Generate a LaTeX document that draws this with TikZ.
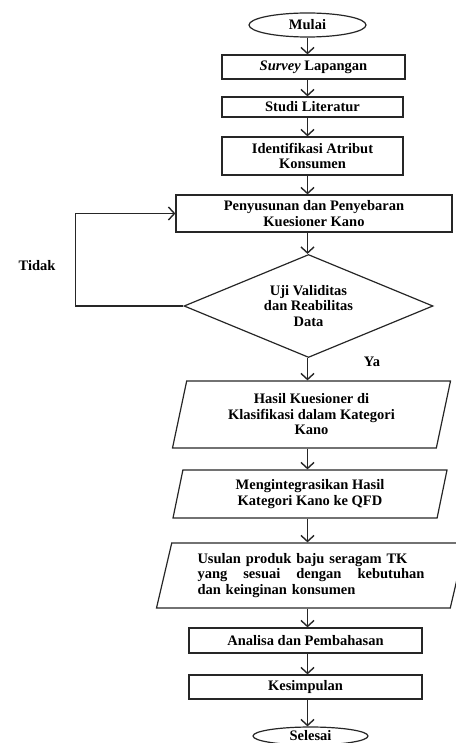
\documentclass[tikz,border=0pt]{standalone}
\usepackage{fontspec}
\setmainfont{Liberation Serif}
\usetikzlibrary{arrows.meta,shapes.geometric,positioning}

\begin{document}
\begin{tikzpicture}[x=1pt,y=-1pt,>={Straight Barb[length=6pt,width=13pt]},
	every node/.style={font=\bfseries\fontsize{14.5}{15.5}\selectfont,text=black,align=center,inner sep=0pt},
	proses/.style={rectangle,draw=black!85,line width=1.2pt},
	terminal/.style={ellipse,draw=black!85,line width=1.2pt,minimum width=117,minimum height=24},
	keputusan/.style={diamond,aspect=2.4,draw=black!85,line width=1.2pt},
	data/.style={trapezium,trapezium left angle=71,trapezium right angle=109,trapezium stretches body,draw=black!85,line width=1.2pt},
	alur/.style={->,line width=1.4pt,draw=black!85}]
					\useasboundingbox (0,0) rectangle (455,743);
					\node[terminal] (mulai) at (307.5,25) {Mulai};
					\node[proses,minimum width=183,minimum height=24] (survey) at (313.5,67) {\textit{Survey} Lapangan};
					\node[proses,minimum width=181,minimum height=20] (studi) at (312.5,107) {Studi Literatur};
					\node[proses,minimum width=181,minimum height=38] (atribut) at (312.5,156) {Identifikasi Atribut\\Konsumen};
					\node[proses,minimum width=276,minimum height=37] (kuesioner) at (314,213.5) {Penyusunan dan Penyebaran\\Kuesioner Kano};
					\node[keputusan,minimum width=249,minimum height=103] (uji) at (308.5,306) {Uji Validitas\\dan Reabilitas\\Data};
					\node[data,minimum width=278,minimum height=67] (hasil) at (311.5,414.5) {Hasil Kuesioner di\\Klasifikasi dalam Kategori\\Kano};
					\node[data,minimum width=274,minimum height=48] (integrasi) at (310,494) {Mengintegrasikan Hasil\\Kategori Kano ke QFD};
					\node[data,minimum width=309,minimum height=65,text width=227,align=left] (usulan) at (311,575.5) {Usulan produk baju seragam TK\\\leavevmode\hbox to 227pt{yang\hfill sesuai\hfill dengan\hfill kebutuhan}\\dan keinginan konsumen};
					\node[proses,minimum width=233,minimum height=25] (analisa) at (305.5,640.5) {Analisa dan Pembahasan};
					\node[proses,minimum width=233,minimum height=24] (kesimpulan) at (305.5,687) {Kesimpulan};
					\node[terminal,minimum width=115,minimum height=18] (selesai) at (310.5,736) {Selesai};
					\node (tidak) at (37,266) {Tidak}; \node (ya) at (372,362) {Ya};
					
					\draw[alur] (mulai.south) -- (mulai.south |- survey.north); \draw[alur] (survey.south -| mulai) -- (studi.north -| mulai); \draw[alur] (studi.south -| mulai) -- (atribut.north -| mulai);
					\draw[alur] (atribut.south -| mulai) -- (kuesioner.north -| mulai); \draw[alur] (kuesioner.south -| mulai) -- (uji.north -| mulai);
					\draw[alur] (uji.west) -- ++(-108,0) |- (kuesioner.west);
					\draw[alur] (uji.south -| mulai) -- (hasil.north -| mulai); \draw[alur] (hasil.south -| mulai) -- (integrasi.north -| mulai); \draw[alur] (integrasi.south -| mulai) -- (usulan.north -| mulai);
					\draw[alur] (usulan.south -| mulai) -- (analisa.north -| mulai); \draw[alur] (analisa.south -| mulai) -- (kesimpulan.north -| mulai); \draw[alur] (kesimpulan.south -| mulai) -- (selesai.north -| mulai);
\end{tikzpicture}
\end{document}
